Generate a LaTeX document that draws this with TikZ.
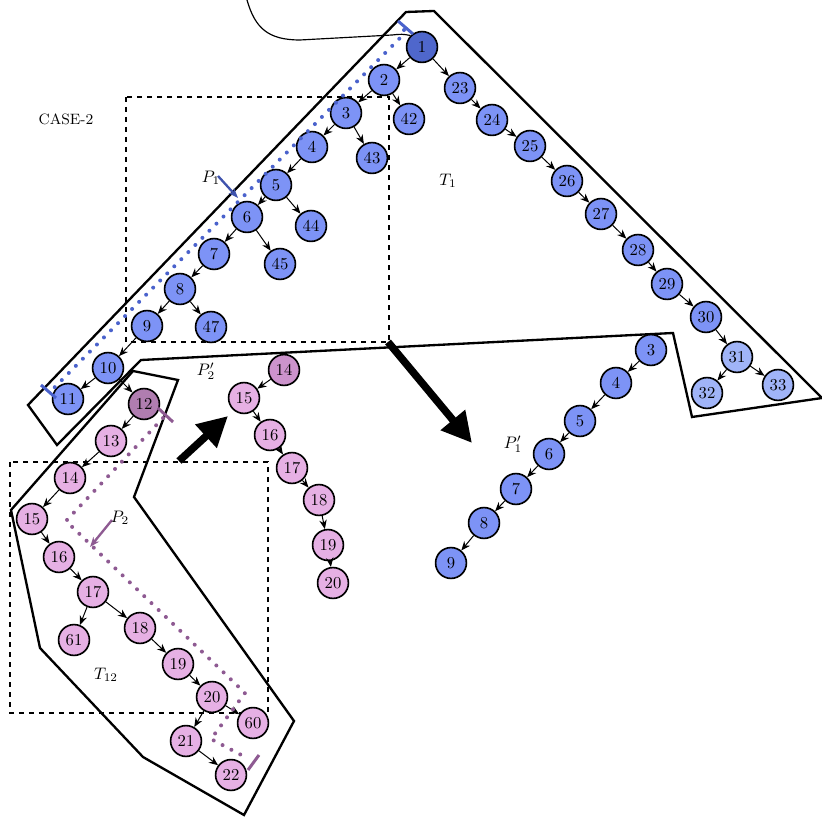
\documentclass[tikz,border=0pt]{standalone}
\usetikzlibrary{arrows.meta}
\definecolor{rootblue}{HTML}{4F67CC}
\definecolor{nodeblue}{HTML}{7D93F6}
\definecolor{leafblue}{HTML}{A0B4F8}
\definecolor{pathblue}{HTML}{4A62CC}
\definecolor{nodepink}{HTML}{E6B0E4}
\definecolor{cutpink}{HTML}{B07DB0}
\definecolor{midpink}{HTML}{CC93CC}
\definecolor{pathpink}{HTML}{8E5A92}
\tikzset{
  tn/.style={circle,draw=black,line width=1pt,minimum size=18.5pt,inner sep=0pt,fill=nodeblue},
  pn/.style={tn,fill=nodepink},
  ed/.style={-{Stealth[length=5.5pt,width=4.5pt]},line width=0.6pt},
  hull/.style={line width=1.4pt,line join=miter},
  box/.style={dashed,line width=0.8pt},
  trail/.style={line width=2.4pt,dash pattern=on 0pt off 6pt,line cap=round},
  bigarrow/.style={line width=4.5pt,-{Triangle[length=18pt,width=18pt]}}
}

\begin{document}
\begin{tikzpicture}[x=0.6pt,y=-0.6pt]
   \useasboundingbox (0,0) rectangle (822,821);
   % outlines and boxes
   \draw[hull] (28,405) -- (406,12) -- (434,11) -- (822,398) -- (692,417) -- (673,333) -- (141,360) -- (57,445) -- cycle;
   \draw[hull] (133,371) -- (178,380) -- (134,497) -- (294,721) -- (244,815) -- (143,757) -- (40,648) -- (11,510) -- cycle;
   \draw[box] (126,97) rectangle (389,342);
   \draw[box] (10,462) rectangle (268,713);
   % tree T1
   \node[tn,fill=rootblue] (n1) at (422,47) {1};
   \node[tn] (n2) at (384,80) {2};
   \node[tn] (n42) at (409,119) {42};
   \node[tn] (n3) at (346,113) {3};
   \node[tn] (n43) at (372,158) {43};
   \node[tn] (n4) at (312,147) {4};
   \node[tn] (n5) at (276,185) {5};
   \node[tn] (n44) at (311,226) {44};
   \node[tn] (n6) at (247,217) {6};
   \node[tn] (n7) at (214,254) {7};
   \node[tn] (n45) at (280,264) {45};
   \node[tn] (n8) at (180,289) {8};
   \node[tn] (n9) at (147,326) {9};
   \node[tn] (n47) at (211,327) {47};
   \node[tn] (n10) at (108,368) {10};
   \node[tn] (n11) at (68,399) {11};
   \node[tn] (n23) at (460,88) {23};
   \node[tn] (n24) at (492,120) {24};
   \node[tn] (n25) at (530,146) {25};
   \node[tn] (n26) at (567,181) {26};
   \node[tn] (n27) at (601,214) {27};
   \node[tn] (n28) at (638,250) {28};
   \node[tn] (n29) at (667,284) {29};
   \node[tn] (n30) at (706,317) {30};
   \node[tn,fill=leafblue] (n31) at (737,357) {31};
   \node[tn,fill=leafblue] (n32) at (707,393) {32};
   \node[tn,fill=leafblue] (n33) at (778,385) {33};
   % tree T12
   \node[pn,fill=cutpink] (n12) at (144,404) {12};
   \node[pn] (n13) at (111,441) {13};
   \node[pn] (n14) at (70,478) {14};
   \node[pn] (n15) at (32,519) {15};
   \node[pn] (n16) at (59,557) {16};
   \node[pn] (n17) at (93,592) {17};
   \node[pn] (n61) at (74,640) {61};
   \node[pn] (n18) at (140,628) {18};
   \node[pn] (n19) at (178,664) {19};
   \node[pn] (n20) at (212,697) {20};
   \node[pn] (n60) at (253,723) {60};
   \node[pn] (n21) at (186,741) {21};
   \node[pn] (n22) at (231,775) {22};
   % path P2'
   \node[pn,fill=midpink] (q14) at (284,370) {14};
   \node[pn] (q15) at (244,398) {15};
   \node[pn] (q16) at (270,435) {16};
   \node[pn] (q17) at (292,468) {17};
   \node[pn] (q18) at (319,500) {18};
   \node[pn] (q19) at (328,545) {19};
   \node[pn] (q20) at (333,583) {20};
   % path P1'
   \node[tn] (r3) at (651,350) {3};
   \node[tn] (r4) at (616,383) {4};
   \node[tn] (r5) at (580,421) {5};
   \node[tn] (r6) at (549,454) {6};
   \node[tn] (r7) at (516,489) {7};
   \node[tn] (r8) at (484,523) {8};
   \node[tn] (r9) at (451,563) {9};
   % edges
   \draw[ed] (n1) -- (n2);
   \draw[ed] (n1) -- (n23);
   \draw[ed] (n2) -- (n3);
   \draw[ed] (n2) -- (n42);
   \draw[ed] (n3) -- (n4);
   \draw[ed] (n3) -- (n43);
   \draw[ed] (n4) -- (n5);
   \draw[ed] (n5) -- (n6);
   \draw[ed] (n5) -- (n44);
   \draw[ed] (n6) -- (n7);
   \draw[ed] (n6) -- (n45);
   \draw[ed] (n7) -- (n8);
   \draw[ed] (n8) -- (n9);
   \draw[ed] (n8) -- (n47);
   \draw[ed] (n9) -- (n10);
   \draw[ed] (n10) -- (n11);
   \draw[ed] (n10) -- (n12);
   \draw[ed] (n23) -- (n24);
   \draw[ed] (n24) -- (n25);
   \draw[ed] (n25) -- (n26);
   \draw[ed] (n26) -- (n27);
   \draw[ed] (n27) -- (n28);
   \draw[ed] (n28) -- (n29);
   \draw[ed] (n29) -- (n30);
   \draw[ed] (n30) -- (n31);
   \draw[ed] (n31) -- (n32);
   \draw[ed] (n31) -- (n33);
   \draw[ed] (n12) -- (n13);
   \draw[ed] (n13) -- (n14);
   \draw[ed] (n14) -- (n15);
   \draw[ed] (n15) -- (n16);
   \draw[ed] (n16) -- (n17);
   \draw[ed] (n17) -- (n61);
   \draw[ed] (n17) -- (n18);
   \draw[ed] (n18) -- (n19);
   \draw[ed] (n19) -- (n20);
   \draw[ed] (n20) -- (n21);
   \draw[ed] (n20) -- (n60);
   \draw[ed] (n21) -- (n22);
   \draw[ed] (q14) -- (q15);
   \draw[ed] (q15) -- (q16);
   \draw[ed] (q16) -- (q17);
   \draw[ed] (q17) -- (q18);
   \draw[ed] (q18) -- (q19);
   \draw[ed] (q19) -- (q20);
   \draw[ed] (r3) -- (r4);
   \draw[ed] (r4) -- (r5);
   \draw[ed] (r5) -- (r6);
   \draw[ed] (r6) -- (r7);
   \draw[ed] (r7) -- (r8);
   \draw[ed] (r8) -- (r9);
   % curve into the root
   \coordinate (top) at (247,0);
   \draw[line width=0.7pt] (top) .. controls (255,28) and (268,40) .. (300,40) -- (392,35) .. controls (402,34) .. (n1.north west);
   % path P1
   \draw[trail,pathblue] (404,30) -- (400,38) -- (50,392);
   \draw[pathblue,line width=1.8pt] (398,21) -- (413,34);
   \draw[pathblue,line width=1.8pt] (41,385) -- (56,398);
   \coordinate (p1tail) at (218,176);
   \coordinate (p1head) at (238,198);
   \draw[pathblue!85!black,line width=1.4pt,-{Stealth[length=6pt]}] (p1tail) -- (p1head);
   % path P2
   \draw[trail,pathpink] (163,418) -- (66,521) -- (245,693) -- (211,739) -- (247,758);
   \draw[pathpink,line width=1.8pt] (248,770) -- (259,755);
   \draw[pathpink,line width=1.8pt] (158,408) -- (173,422);
   \coordinate (p2tail) at (112,520);
   \coordinate (p2head) at (90,547);
   \draw[pathpink,line width=1.4pt,-{Stealth[length=6pt]}] (p2tail) -- (p2head);
   % big arrows
   \coordinate (a1) at (388,342);
   \coordinate (a2) at (472,443);
   \draw[bigarrow] (a1) -- (a2);
   \coordinate (b1) at (179,461);
   \coordinate (b2) at (228,416);
   \draw[bigarrow] (b1) -- (b2);
   % labels
   \node (lcase) at (66,119) {\small CASE-2};
   \node (lp1) at (211,178) {$P_1$};
   \node (lt1) at (448,181) {$T_1$};
   \node (lp2b) at (206,371) {$P_2'$};
   \node (lp1b) at (513,444) {$P_1'$};
   \node (lp2) at (120,518) {$P_2$};
   \node (lt12) at (106,675) {$T_{12}$};
\end{tikzpicture}
\end{document}
